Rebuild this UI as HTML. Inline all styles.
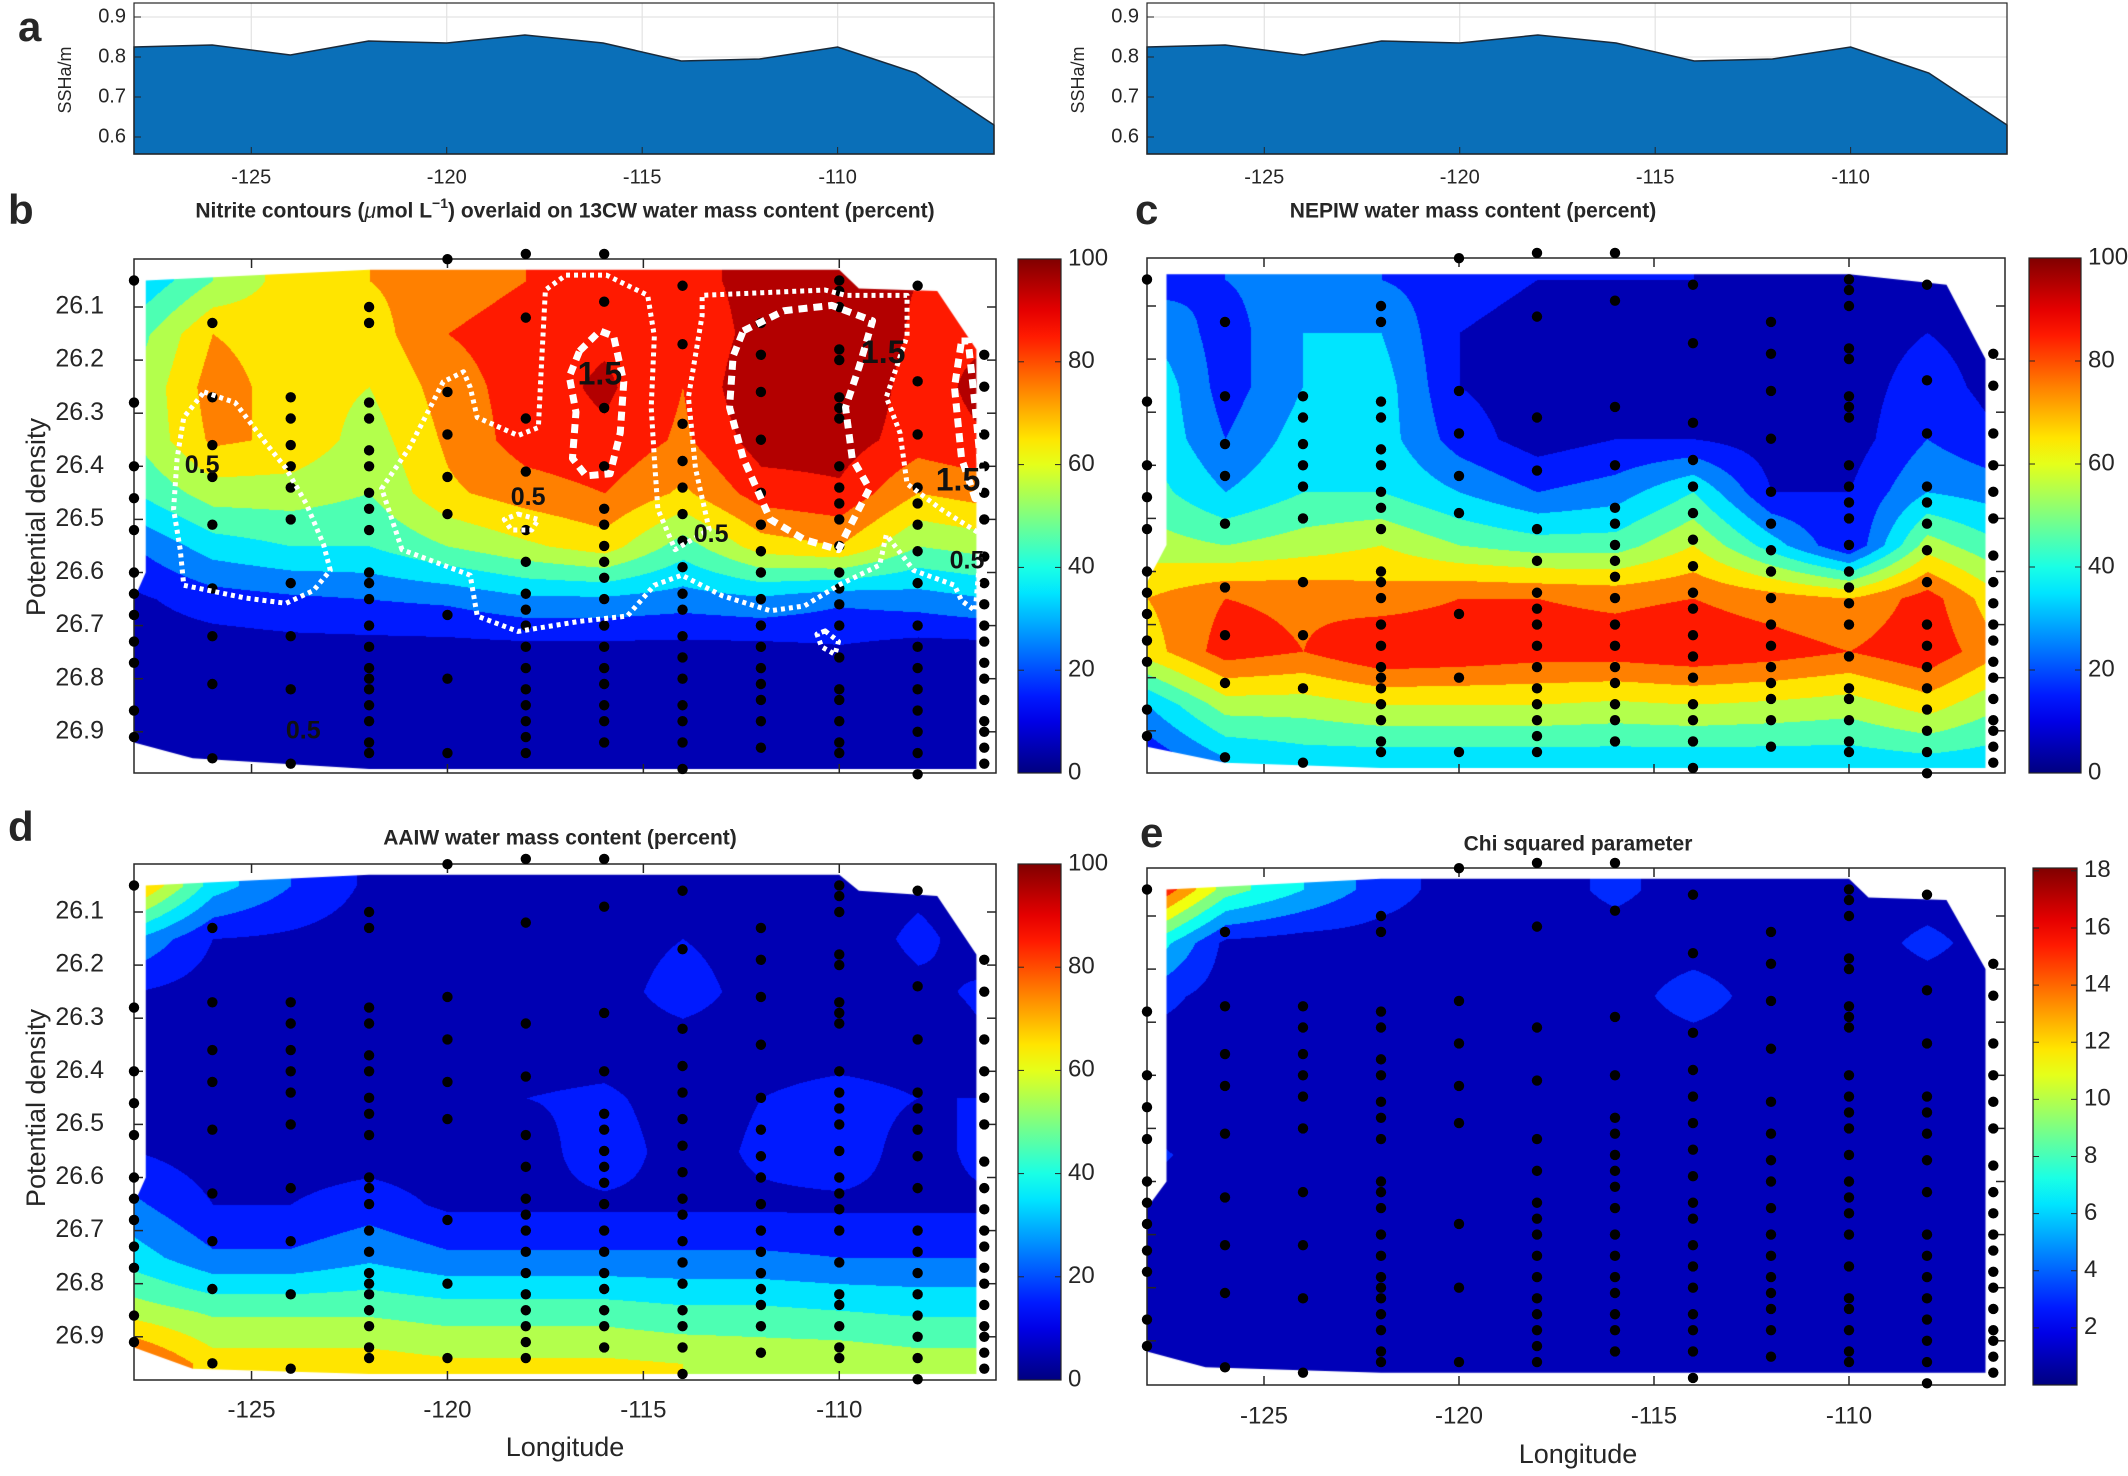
<!DOCTYPE html>
<html><head><meta charset="utf-8">
<style>
html,body{margin:0;padding:0;background:#fff;}
#wrap{position:relative;width:2128px;height:1476px;overflow:hidden;font-family:"Liberation Sans",sans-serif;}
canvas{position:absolute;}
svg{position:absolute;left:0;top:0;}
</style></head>
<body>
<div id="wrap">
<canvas id="cb"></canvas>
<canvas id="cc"></canvas>
<canvas id="cd"></canvas>
<canvas id="ce"></canvas>
<svg id="s" width="2128" height="1476"></svg>
</div>
<script>
// ---------- data ----------
const lons = [-128,-126,-124,-122,-120,-118,-116,-114,-112,-110,-108,-106];
const sigmaRows = [26.05,26.15,26.25,26.35,26.45,26.55,26.65,26.75,26.85,26.95];
const sshaValues = [0.825,0.83,0.805,0.84,0.835,0.855,0.835,0.79,0.795,0.825,0.76,0.63];
const sshaTicks = [0.6,0.7,0.8,0.9];
const lonTicks = [-125,-120,-115,-110];
const sigmaTicks = [26.1,26.2,26.3,26.4,26.5,26.6,26.7,26.8,26.9];
const pctTicks = [0,20,40,60,80,100];
const chiTicks = [2,4,6,8,10,12,14,16,18];
const field13CW = [
[30,50,65,70,75,80,88,85,95,95,90,85],
[45,70,65,65,80,85,88,80,95,100,88,88],
[50,75,65,60,75,85,92,80,100,100,85,95],
[50,72,68,55,72,85,88,78,95,95,85,90],
[40,55,55,50,68,75,80,68,85,88,70,75],
[20,35,40,40,50,58,65,45,65,70,50,55],
[8,15,18,20,22,28,28,25,28,22,25,30],
[4,4,5,5,5,5,5,5,5,8,4,4],
[3,3,3,3,3,3,3,3,3,3,3,3],
[3,3,3,3,3,3,3,3,3,3,3,3]];
const fieldNEPIW = [
[15,20,25,20,15,10,10,10,5,5,5,5],
[30,15,30,30,10,5,5,5,5,5,10,5],
[40,15,30,35,10,5,5,5,5,5,15,5],
[40,20,35,35,15,5,10,10,5,5,20,10],
[45,30,40,40,30,20,25,40,10,10,30,25],
[55,50,55,60,50,45,45,60,35,10,55,40],
[70,80,78,75,80,80,78,80,75,70,85,60],
[65,85,80,90,88,85,85,88,85,80,88,70],
[30,55,55,60,60,60,58,60,58,55,65,50],
[12,30,35,35,35,35,35,35,35,35,38,35]];
const fieldAAIW = [
[75,35,20,8,5,5,10,5,5,5,8,5],
[30,10,8,5,5,5,5,10,5,5,12,5],
[10,5,5,5,5,5,5,15,5,5,8,12],
[5,5,5,5,5,5,5,5,5,5,5,10],
[5,5,5,5,10,10,12,5,10,14,10,10],
[10,5,5,5,5,5,16,5,12,16,5,15],
[22,10,10,15,8,8,8,8,8,8,8,8],
[35,22,22,28,22,22,22,22,22,20,20,20],
[55,48,48,48,45,45,45,42,42,40,38,38],
[85,65,65,65,62,62,62,60,58,58,55,55]];
const fieldChi = [
[17,9,6,3,1,1,2.5,1,1,1,1,1],
[8,1.5,1,1,1,1,1,1,1,1,2.5,1],
[3,1,1,1,1,1,1,3,1,1,1,1],
[1,1,1,1,1,1,1,1,1,1,1,1],
[1,1,1,1,1,1,1,1,1,1,1,1],
[2.5,1,1,1,1,1,1,1,1,1,1,1],
[1,1,1,1,1,1,1,1,1,1,1,1],
[1,1,1,1,1,1,1,1,1,1,1,1],
[1,1,1,1,1,1,1,1,1,1,1,1],
[1,1,1,1,1,1,1,1,1,1,1,1]];
const maskB = [[-127.7,26.05],[-122,26.03],[-110,26.03],[-109.5,26.065],[-107.5,26.07],[-106.5,26.18],[-106.5,26.97],[-122,26.97],[-126.5,26.95],[-128,26.92],[-128,26.65],[-127.7,26.6]];
const maskC = [[-127.5,26.04],[-110,26.04],[-107.5,26.06],[-106.5,26.2],[-106.5,26.97],[-122,26.97],[-126,26.96],[-128,26.93],[-128,26.62],[-127.5,26.55]];
const maskD = [[-127.7,26.05],[-122,26.03],[-110,26.03],[-109.5,26.06],[-107.5,26.07],[-106.5,26.18],[-106.5,26.97],[-122,26.97],[-126.5,26.96],[-128,26.92],[-128,26.65],[-127.7,26.6]];
const maskE = [[-127.5,26.05],[-122,26.03],[-110,26.03],[-109.5,26.065],[-107.5,26.07],[-106.5,26.2],[-106.5,26.96],[-122,26.96],[-126.5,26.95],[-128,26.92],[-128,26.65],[-127.5,26.6]];
const stationLons = [-128,-126,-124,-122,-120,-118,-116,-114,-112,-110,-108,-106.3];
const stationSigmas = [
[26.05,26.28,26.40,26.46,26.52,26.60,26.64,26.68,26.73,26.77,26.86,26.91],
[26.13,26.27,26.36,26.42,26.51,26.63,26.72,26.81,26.95],
[26.27,26.31,26.36,26.40,26.44,26.50,26.62,26.72,26.82,26.96],
[26.10,26.13,26.28,26.31,26.37,26.40,26.45,26.48,26.52,26.60,26.62,26.65,26.70,26.74,26.78,26.80,26.82,26.85,26.88,26.92,26.94],
[26.01,26.26,26.34,26.42,26.49,26.68,26.80,26.94],
[26.00,26.12,26.31,26.41,26.52,26.58,26.64,26.67,26.70,26.74,26.78,26.82,26.85,26.88,26.91,26.94],
[26.00,26.09,26.29,26.40,26.48,26.51,26.55,26.58,26.61,26.65,26.70,26.74,26.78,26.81,26.85,26.88,26.92],
[26.06,26.17,26.32,26.39,26.44,26.49,26.54,26.59,26.64,26.67,26.72,26.76,26.80,26.85,26.88,26.92,26.97],
[26.13,26.19,26.26,26.35,26.45,26.51,26.56,26.60,26.65,26.70,26.74,26.78,26.81,26.84,26.88,26.93],
[26.05,26.07,26.10,26.18,26.20,26.27,26.29,26.31,26.40,26.44,26.47,26.50,26.55,26.60,26.63,26.66,26.70,26.76,26.82,26.84,26.88,26.92,26.94],
[26.06,26.24,26.34,26.44,26.47,26.51,26.56,26.62,26.70,26.74,26.78,26.82,26.86,26.90,26.94,26.98],
[26.19,26.25,26.34,26.40,26.45,26.50,26.57,26.62,26.66,26.70,26.73,26.77,26.80,26.84,26.88,26.90,26.93,26.96]];
const contourThin1 = [[-126.21,26.26],[-125.42,26.28],[-124.64,26.356],[-124.12,26.404],[-123.6,26.471],[-123.16,26.548],[-122.99,26.596],[-123.42,26.634],[-124.12,26.658],[-125.16,26.648],[-126.73,26.624],[-126.82,26.557],[-126.99,26.481],[-126.9,26.385],[-126.73,26.308]];
const contourThin2 = [[-121.16,26.557],[-121.68,26.442],[-120.98,26.366],[-120.64,26.318],[-120.11,26.241],[-119.59,26.222],[-119.42,26.251],[-119.24,26.308],[-118.2,26.342],[-117.68,26.327],[-117.59,26.193],[-117.5,26.068],[-116.98,26.04],[-115.94,26.04],[-114.89,26.078],[-114.72,26.155],[-114.8,26.289],[-114.72,26.385],[-114.63,26.481],[-114.19,26.557],[-113.32,26.519],[-113.67,26.404],[-113.85,26.27],[-113.5,26.116],[-113.5,26.078],[-110.36,26.068],[-109.84,26.078],[-108.27,26.078],[-108.27,26.155],[-108.8,26.27],[-108.45,26.337],[-108.27,26.433],[-107.4,26.481],[-106.36,26.529],[-106.53,26.672],[-106.88,26.653],[-107.06,26.624],[-108.1,26.596],[-108.8,26.529],[-108.97,26.586],[-110.02,26.624],[-110.89,26.663],[-111.76,26.672],[-112.98,26.644],[-114.02,26.605],[-114.72,26.624],[-115.41,26.682],[-116.63,26.692],[-118.2,26.711],[-119.24,26.682],[-119.42,26.605],[-120.11,26.586]];
const contourThick1 = [[-116.63,26.183],[-116.11,26.145],[-115.76,26.155],[-115.5,26.241],[-115.59,26.337],[-115.85,26.414],[-116.46,26.418],[-116.81,26.385],[-116.72,26.298],[-116.89,26.231]];
const contourThick2 = [[-112.45,26.145],[-111.41,26.107],[-110.19,26.097],[-109.15,26.126],[-109.49,26.212],[-109.84,26.289],[-109.67,26.385],[-109.23,26.442],[-109.84,26.529],[-110.02,26.557],[-110.89,26.538],[-111.76,26.5],[-112.45,26.385],[-112.8,26.289],[-112.71,26.193]];
const contourThick3 = [[-106.88,26.164],[-106.71,26.164],[-106.53,26.289],[-106.36,26.423],[-106.53,26.461],[-106.88,26.385],[-107.06,26.251]];
const contourSmall1 = [[-118.2,26.49],[-117.68,26.5],[-117.85,26.52],[-118.37,26.52],[-118.55,26.5]];
const contourSmall2 = [[-110.36,26.71],[-110.02,26.73],[-110.11,26.754],[-110.45,26.74],[-110.57,26.716]];
const contourLabelText = ["1.5","1.5","1.5","0.5","0.5","0.5","0.5","0.5"];
const contourLabelLon = [-116.11,-108.88,-106.97,-126.26,-117.94,-113.27,-106.74,-123.68];
const contourLabelSig = [26.23,26.19,26.43,26.40,26.46,26.53,26.58,26.90];

// ---------- helpers ----------
const NS="http://www.w3.org/2000/svg";
const svg=document.getElementById('s');
function el(tag,attrs,parent){const e=document.createElementNS(NS,tag);for(const k in attrs)e.setAttribute(k,attrs[k]);(parent||svg).appendChild(e);return e;}
function txt(x,y,s,size,anchor,weight,parent,fill){const t=el('text',{x:x,y:y,'font-size':size,'text-anchor':anchor||'middle','font-weight':weight||'normal',fill:fill||'#262626','dominant-baseline':'middle','font-family':'"Liberation Sans",sans-serif'},parent);t.textContent=s;return t;}
function jet(t){const c=v=>Math.max(0,Math.min(1,v));return [c(1.5-Math.abs(4*t-3)),c(1.5-Math.abs(4*t-2)),c(1.5-Math.abs(4*t-1))].map(v=>Math.round(v*255));}
function interp(f,lon,sig){let fc=(lon+128)/2,fr=(sig-26.05)/0.1;fc=Math.max(0,Math.min(11,fc));fr=Math.max(0,Math.min(9,fr));
 const c0=Math.min(10,Math.floor(fc)),r0=Math.min(8,Math.floor(fr));const a=fc-c0,b=fr-r0;
 return f[r0][c0]*(1-a)*(1-b)+f[r0][c0+1]*a*(1-b)+f[r0+1][c0]*(1-a)*b+f[r0+1][c0+1]*a*b;}

function makePanel(cfg){
 const X=l=>cfg.x0+(l+128)/22*cfg.w;
 const Y=s=>cfg.y261+(s-26.1)*531;
 cfg.X=X;cfg.Y=Y;
 const cv=document.getElementById(cfg.canvas);
 cv.width=cfg.w;cv.height=cfg.h;cv.style.left=cfg.x0+'px';cv.style.top=cfg.y0+'px';
 const off=document.createElement('canvas');off.width=cfg.w;off.height=cfg.h;
 const oc=off.getContext('2d');const img=oc.createImageData(cfg.w,cfg.h);
 for(let py=0;py<cfg.h;py++){const sig=26.1+(cfg.y0+py-cfg.y261)/531;
  for(let px=0;px<cfg.w;px++){const lon=-128+px/cfg.w*22;
   const v=interp(cfg.field,lon,sig);let lv=Math.floor(v/cfg.step);lv=Math.max(0,Math.min(cfg.nlev-1,lv));
   const col=jet((lv+0.5)/cfg.nlev);const i=(py*cfg.w+px)*4;
   img.data[i]=col[0];img.data[i+1]=col[1];img.data[i+2]=col[2];img.data[i+3]=255;}}
 oc.putImageData(img,0,0);
 const ctx=cv.getContext('2d');ctx.save();ctx.beginPath();
 cfg.mask.forEach((p,i)=>{const x=X(p[0])-cfg.x0,y=Y(p[1])-cfg.y0;i?ctx.lineTo(x,y):ctx.moveTo(x,y);});
 ctx.closePath();ctx.clip();ctx.drawImage(off,0,0);ctx.restore();
 const g=el('g',{});
 
 el('rect',{x:cfg.x0,y:cfg.y0,width:cfg.w,height:cfg.h,fill:'none',stroke:'#262626','stroke-width':1.5},g);
 lonTicks.forEach(t=>{el('line',{x1:X(t),x2:X(t),y1:cfg.y0+cfg.h,y2:cfg.y0+cfg.h-9,stroke:'#262626','stroke-width':1.5},g);
  el('line',{x1:X(t),x2:X(t),y1:cfg.y0,y2:cfg.y0+9,stroke:'#262626','stroke-width':1.5},g);
  if(cfg.xlabels){const tl=txt(X(t),cfg.xlabY,String(t),24,'middle','normal',g);}});
 sigmaTicks.forEach(t=>{el('line',{x1:cfg.x0,x2:cfg.x0+9,y1:Y(t),y2:Y(t),stroke:'#262626','stroke-width':1.5},g);
  el('line',{x1:cfg.x0+cfg.w,x2:cfg.x0+cfg.w-9,y1:Y(t),y2:Y(t),stroke:'#262626','stroke-width':1.5},g);
  if(cfg.ylabels){const tl=txt(cfg.x0-30,Y(t),t.toFixed(1),25,'end','normal',g);}});
 const dg=el('g',{});
 
 stationLons.forEach((l,i)=>stationSigmas[i].forEach(s=>{const c=el('circle',{cx:X(l),cy:Y(s),r:5.2,fill:'#000'},dg);
  
  }));
 const id='grad'+cfg.name;const defs=el('defs',{});const lg=el('linearGradient',{id:id,x1:0,y1:1,x2:0,y2:0},defs);
 for(let i=0;i<=20;i++){const c=jet(i/20);el('stop',{offset:(i/20),'stop-color':`rgb(${c})`},lg);}
 const cb=el('rect',{x:cfg.cbx,y:cfg.y0,width:cfg.cbw,height:cfg.h,fill:`url(#${id})`,stroke:'#262626','stroke-width':1.2});
 
 cfg.cbTicks.forEach(t=>{const y=cfg.y0+cfg.h-(t-cfg.cbMin)/(cfg.cbMax-cfg.cbMin)*cfg.h;
  el('line',{x1:cfg.cbx,x2:cfg.cbx+6,y1:y,y2:y,stroke:'#262626'});el('line',{x1:cfg.cbx+cfg.cbw,x2:cfg.cbx+cfg.cbw-6,y1:y,y2:y,stroke:'#262626'});
  const tl=txt(cfg.cbx+cfg.cbw+7,y,String(t),24,'start');});
 return cfg;
}

// ---------- panel a ----------
function panelA(x0,name){
 const w=860,y0=3,h=151;
 const X=l=>x0+(l+128)/22*w, Y=v=>17+(0.9-v)*400;
 const g=el('g',{});
 sshaTicks.forEach(t=>el('line',{x1:x0,x2:x0+w,y1:Y(t),y2:Y(t),stroke:'#e3e3e3','stroke-width':1.2},g));
 lonTicks.forEach(t=>el('line',{x1:X(t),x2:X(t),y1:y0,y2:y0+h,stroke:'#e3e3e3','stroke-width':1.2},g));
 let d=`M${X(lons[0])},${y0+h}`;lons.forEach((l,i)=>d+=` L${X(l)},${Y(sshaValues[i])}`);d+=` L${X(lons[lons.length-1])},${y0+h} Z`;
 const a=el('path',{d:d,fill:'#0a6fb8',stroke:'#1a2a3a','stroke-width':1.5},g);
 
 el('rect',{x:x0,y:y0,width:w,height:h,fill:'none',stroke:'#262626','stroke-width':1.2},g);
 sshaTicks.forEach(t=>{el('line',{x1:x0,x2:x0+7,y1:Y(t),y2:Y(t),stroke:'#262626'},g);txt(x0-8,Y(t),t.toFixed(1),20,'end','normal',g);});
 lonTicks.forEach(t=>{el('line',{x1:X(t),x2:X(t),y1:y0+h,y2:y0+h-7,stroke:'#262626'},g);txt(X(t),178,String(t),20,'middle','normal',g);});
 const yl=txt(0,0,'SSHa/m',18,'middle','normal',g);yl.setAttribute('transform',`translate(${x0-68},80) rotate(-90)`);
 
}
panelA(134,'panel-a-left');
panelA(1147,'panel-a-right');

// ---------- heatmap panels ----------
const pb=makePanel({name:'panel-b',canvas:'cb',x0:134,y0:259,w:862,h:514,y261:307,field:field13CW,step:10,nlev:10,mask:maskB,cbx:1018,cbw:43,cbTicks:pctTicks,cbMin:0,cbMax:100,ylabels:true,xlabels:false});
const pc=makePanel({name:'panel-c',canvas:'cc',x0:1147,y0:258,w:858,h:515,y261:306,field:fieldNEPIW,step:10,nlev:10,mask:maskC,cbx:2029,cbw:52,cbTicks:pctTicks,cbMin:0,cbMax:100,ylabels:false,xlabels:false});
const pd=makePanel({name:'panel-d',canvas:'cd',x0:134,y0:864,w:862,h:516,y261:912,field:fieldAAIW,step:10,nlev:10,mask:maskD,cbx:1018,cbw:43,cbTicks:pctTicks,cbMin:0,cbMax:100,ylabels:true,xlabels:true,xlabY:1411});
const pe=makePanel({name:'panel-e',canvas:'ce',x0:1147,y0:868,w:858,h:517,y261:916,field:fieldChi,step:2,nlev:9,mask:maskE,cbx:2033,cbw:44,cbTicks:chiTicks,cbMin:0,cbMax:18.1,ylabels:false,xlabels:true,xlabY:1417});

// ---------- contours on b ----------
function contour(pts,thick,name){let d='';pts.forEach((p,i)=>d+=(i?' L':'M')+pb.X(p[0])+','+pb.Y(p[1]));d+=' Z';
 const c=el('path',{d:d,fill:'none',stroke:'#fff','stroke-width':thick?7:5,'stroke-dasharray':thick?'9 6':'4 4','stroke-linejoin':'round'});
 }
contour(contourThin1,false,'nitrite-contour-0.5-west');
contour(contourThin2,false,'nitrite-contour-0.5-central');
contour(contourSmall1,false,'nitrite-contour-0.5-small');
contour(contourSmall2,false,'nitrite-contour-0.5-deep');
contour(contourThick1,true,'nitrite-contour-1.5-a');
contour(contourThick2,true,'nitrite-contour-1.5-b');
contour(contourThick3,true,'nitrite-contour-1.5-c');
contourLabelText.forEach((s,i)=>{const t=txt(pb.X(contourLabelLon[i]),pb.Y(contourLabelSig[i]),s,s==='1.5'?32:25,'middle','bold',svg,'#111');
 });

// ---------- titles & labels ----------
function label(x,y,s,size,weight,name,anchor){const t=txt(x,y,s,size,anchor||'middle',weight);return t;}
label(18,30,'a',42,'bold','panel-label-a','start');
label(8,213,'b',42,'bold','panel-label-b','start');
label(1135,213,'c',42,'bold','panel-label-c','start');
label(8,830,'d',42,'bold','panel-label-d','start');
label(1140,836,'e',42,'bold','panel-label-e','start');
const tb=txt(565,212,'',21,'middle','bold');
tb.innerHTML='Nitrite contours (<tspan font-style="italic" font-weight="normal">μ</tspan>mol L<tspan baseline-shift="super" font-size="14">−1</tspan>) overlaid on 13CW water mass content (percent)';
label(1473,212,'NEPIW water mass content (percent)',21,'bold','panel-c-title');
label(560,839,'AAIW water mass content (percent)',21,'bold','panel-d-title');
label(1578,845,'Chi squared parameter',21,'bold','panel-e-title');
const y1=label(0,0,'Potential density',27,'normal','panel-b-y-axis-title');y1.setAttribute('transform','translate(38,517) rotate(-90)');
const y2=label(0,0,'Potential density',27,'normal','panel-d-y-axis-title');y2.setAttribute('transform','translate(38,1108) rotate(-90)');
label(565,1449,'Longitude',27,'normal','panel-d-x-axis-title');
label(1578,1456,'Longitude',27,'normal','panel-e-x-axis-title');
</script>
</body></html>
